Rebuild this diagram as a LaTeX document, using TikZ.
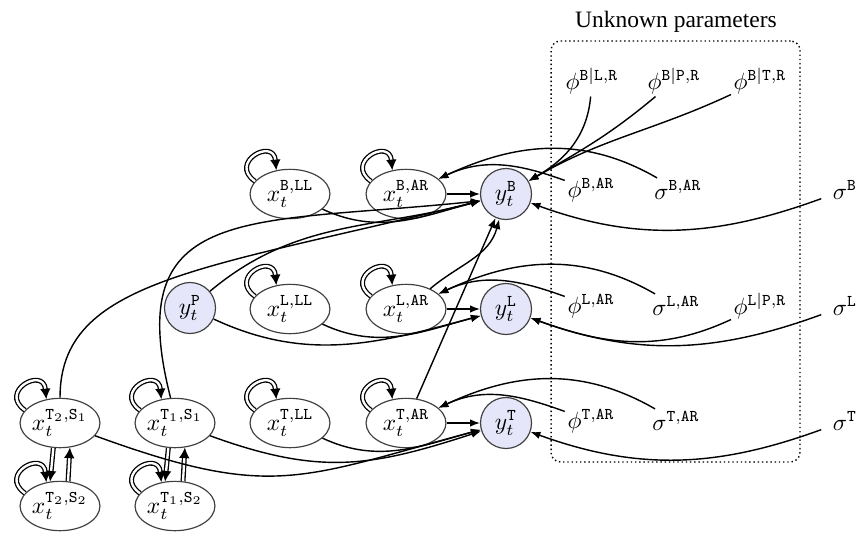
\documentclass[tikz,border=0pt]{standalone}
\usepackage[no-math]{fontspec}
\newfontfamily\titlefont{Liberation Serif}
\usetikzlibrary{arrows.meta,shapes.geometric}
\definecolor{yfill}{RGB}{230,230,250}
\begin{document}
\begin{tikzpicture}[x=0.4255pt,y=0.4255pt,
  xnode/.style={ellipse,draw=black!75,line width=0.5pt,minimum width=34pt,minimum height=21pt,inner sep=0pt},
  ynode/.style={circle,draw=black!75,line width=0.5pt,fill=yfill,minimum size=21.7pt,inner sep=0pt},
  pnode/.style={inner sep=1pt},
  arr/.style={semithick,-{Latex[length=4.2pt,width=3.2pt]}},
  dbl/.style={double,double distance=1pt,line width=0.55pt,-{Latex[length=4.5pt,width=4.5pt]}},
  framebox/.style={draw,line width=0.6pt,dash pattern=on 0.6pt off 1.2pt,rounded corners=4pt,minimum width=105.9pt,minimum height=179.1pt},
]
\useasboundingbox (0,0) rectangle (859,533);
% frame and title
\node[framebox] (box) at (675.5,281.5) {};
\node[font=\titlefont] (title) at (676,511) {Unknown parameters};
% state nodes
\node[xnode] (xBLL) at (290,339) {$x_t^{\mathtt{B,LL}}$};
\node[xnode] (xBAR) at (406,339) {$x_t^{\mathtt{B,AR}}$};
\node[ynode] (yB) at (506,339) {$y_t^{\mathtt{B}}$};
\node[ynode] (yP) at (190,225) {$y_t^{\mathtt{P}}$};
\node[xnode] (xLLL) at (290,224) {$x_t^{\mathtt{L,LL}}$};
\node[xnode] (xLAR) at (406,224) {$x_t^{\mathtt{L,AR}}$};
\node[ynode] (yL) at (506,224) {$y_t^{\mathtt{L}}$};
\node[xnode] (xTbSa) at (60,110) {$x_t^{\mathtt{T}_2,\mathtt{S}_1}$};
\node[xnode] (xTaSa) at (175,110) {$x_t^{\mathtt{T}_1,\mathtt{S}_1}$};
\node[xnode] (xTLL) at (290,110) {$x_t^{\mathtt{T,LL}}$};
\node[xnode] (xTAR) at (406,110) {$x_t^{\mathtt{T,AR}}$};
\node[ynode] (yT) at (506,110) {$y_t^{\mathtt{T}}$};
\node[xnode] (xTbSb) at (60,27) {$x_t^{\mathtt{T}_2,\mathtt{S}_2}$};
\node[xnode] (xTaSb) at (175,27) {$x_t^{\mathtt{T}_1,\mathtt{S}_2}$};
% parameters
\node[pnode] (phiBLR) at (592,452) {$\phi^{\mathtt{B|L,R}}$};
\node[pnode] (phiBPR) at (674,452) {$\phi^{\mathtt{B|P,R}}$};
\node[pnode] (phiBTR) at (760,452) {$\phi^{\mathtt{B|T,R}}$};
\node[pnode] (phiBAR) at (591,343) {$\phi^{\mathtt{B,AR}}$};
\node[pnode] (sigBAR) at (678,343) {$\sigma^{\mathtt{B,AR}}$};
\node[pnode] (sigB) at (845,343) {$\sigma^{\mathtt{B}}$};
\node[pnode] (phiLAR) at (591,227) {$\phi^{\mathtt{L,AR}}$};
\node[pnode] (sigLAR) at (676,227) {$\sigma^{\mathtt{L,AR}}$};
\node[pnode] (phiLPR) at (760,227) {$\phi^{\mathtt{L|P,R}}$};
\node[pnode] (sigL) at (845,227) {$\sigma^{\mathtt{L}}$};
\node[pnode] (phiTAR) at (591,112) {$\phi^{\mathtt{T,AR}}$};
\node[pnode] (sigTAR) at (676,112) {$\sigma^{\mathtt{T,AR}}$};
\node[pnode] (sigT) at (845,112) {$\sigma^{\mathtt{T}}$};
% self loops
\foreach \n in {xBLL,xBAR,xLLL,xLAR,xTLL,xTAR,xTbSa,xTaSa,xTbSb,xTaSb}
  \draw[dbl] (\n.160) .. controls +(145:14pt) and +(95:14pt) .. (\n.120);
% seasonal transitions
\draw[dbl] (xTbSa.-105) -- (xTbSb.112);
\draw[dbl] (xTbSb.72) -- (xTbSa.-68);
\draw[dbl] (xTaSa.-105) -- (xTaSb.112);
\draw[dbl] (xTaSb.72) -- (xTaSa.-68);
% into y^B
\draw[arr] (xBAR) -- (yB);
\draw[arr] (xBLL) to[out=-25,in=195] (yB);
\draw[arr] (yP) to[out=40,in=195] (yB);
\draw[arr] (xTbSa.north) .. controls (60,253) and (200,263) .. (yB.195);
\draw[arr] (xTaSa.100) .. controls (120,333) and (250,308) .. (yB.195);
\draw[arr] (xLAR) to[out=40,in=255] (yB);
\draw[arr] (xTAR) -- (yB);
% into y^L
\draw[arr] (xLAR) -- (yL);
\draw[arr] (xLLL) to[out=-25,in=195] (yL);
\draw[arr] (yP) to[out=-25,in=195] (yL);
% into y^T
\draw[arr] (xTAR) -- (yT);
\draw[arr] (xTLL) to[out=-25,in=195] (yT);
\draw[arr] (xTaSa) to[out=-20,in=198,looseness=1.1] (yT);
\draw[arr] (xTbSa) to[out=-20,in=195,looseness=1.25] (yT);
% AR parameters
\draw[arr] (phiBAR) to[out=160,in=25] (xBAR);
\draw[arr] (sigBAR) to[out=150,in=25] (xBAR);
\draw[arr] (phiLAR) to[out=160,in=25] (xLAR);
\draw[arr] (sigLAR) to[out=150,in=25] (xLAR);
\draw[arr] (phiTAR) to[out=160,in=25] (xTAR);
\draw[arr] (sigTAR) to[out=150,in=25] (xTAR);
% regression parameters and noise
\draw[arr] (phiBLR) to[out=-95,in=30] (yB);
\draw[arr] (phiBPR) to[out=-140,in=30] (yB);
\draw[arr] (phiBTR) to[out=-155,in=30] (yB);
\draw[arr,shorten <=4pt] (sigB) to[out=-160,in=-20] (yB);
\draw[arr] (phiLPR) to[out=-155,in=-20] (yL);
\draw[arr,shorten <=4pt] (sigL) to[out=-160,in=-20] (yL);
\draw[arr,shorten <=4pt] (sigT) to[out=-160,in=-20] (yT);
\end{tikzpicture}
\end{document}
